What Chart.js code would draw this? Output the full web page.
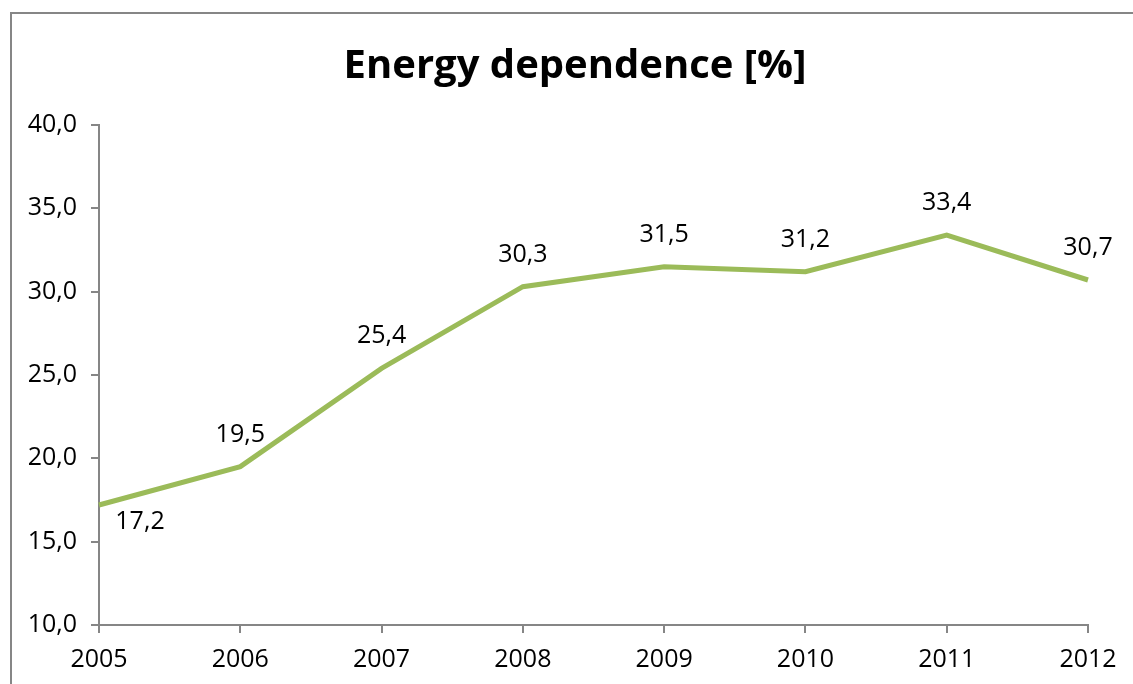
<!DOCTYPE html>
<html><head><meta charset="utf-8">
<script src="https://cdn.jsdelivr.net/npm/chart.js@4"></script>
<style>
html,body{margin:0;padding:0;background:#fff;overflow:hidden}
#wrap{position:absolute;left:0;top:0;width:1133px;height:684px}
#frame{position:absolute;left:10px;top:12px;width:1200px;height:800px;border:2px solid #868686;box-sizing:border-box}
canvas{position:absolute;left:0;top:0}
</style></head><body>
<div id="wrap"><div id="frame"></div><canvas id="c" width="1133" height="684"></canvas></div>
<script>
const categories = ['2005','2006','2007','2008','2009','2010','2011','2012'];
const values = [17.2, 19.5, 25.4, 30.3, 31.5, 31.2, 33.4, 30.7];
const yTicks = [10, 15, 20, 25, 30, 35, 40];
const titleText = 'Energy dependence [%]';

const FONT = '"Open Sans", sans-serif';
const fmt = v => v.toFixed(1).replace('.', ',');

const labelPlugin = {
  id: 'valLabels',
  afterDatasetsDraw(chart) {
    const ctx = chart.ctx;
    const meta = chart.getDatasetMeta(0);
    ctx.save();
    ctx.font = '25px ' + FONT;
    ctx.fillStyle = '#000';
    ctx.textAlign = 'center';
    ctx.textBaseline = 'middle';
    meta.data.forEach((pt, i) => {
      const v = values[i];
      if (i === 0) {
        ctx.fillText(fmt(v), pt.x + 41, pt.y + 17);
      } else {
        ctx.fillText(fmt(v), pt.x, pt.y - 32);
      }
    });
    // title
    ctx.font = 'bold 40px ' + FONT;
    ctx.fillText(titleText, 575, 67);
    ctx.restore();
  }
};

new Chart(document.getElementById('c'), {
  type: 'line',
  data: {
    labels: categories,
    datasets: [{
      data: values,
      borderColor: '#9BBB59',
      borderWidth: 5,
      pointRadius: 0,
      tension: 0,
      fill: false
    }]
  },
  options: {
    responsive: false,
    animation: false,
    devicePixelRatio: 1,
    layout: { padding: { left: 10, right: 45, top: 125, bottom: 0 } },
    plugins: {
      legend: { display: false },
      tooltip: { enabled: false },
      title: { display: false }
    },
    scales: {
      x: {
        offset: false,
        grid: { drawOnChartArea: false, drawTicks: true, tickLength: 8, color: '#868686', lineWidth: 2 },
        border: { color: '#868686', width: 2 },
        ticks: { color: '#000', font: { family: FONT, size: 25 }, padding: 12, maxRotation: 0 },
        afterFit: s => { s.height = 59; }
      },
      y: {
        min: 10, max: 40,
        grid: { drawOnChartArea: false, drawTicks: true, tickLength: 8, color: '#868686', lineWidth: 2 },
        border: { color: '#868686', width: 2 },
        afterBuildTicks: s => { s.ticks = yTicks.map(v => ({ value: v })); },
        ticks: { color: '#000', font: { family: FONT, size: 25 }, padding: 14, callback: v => fmt(v) },
        afterFit: s => { s.width = 89; }
      }
    }
  },
  plugins: [labelPlugin]
});
</script>
</body></html>
